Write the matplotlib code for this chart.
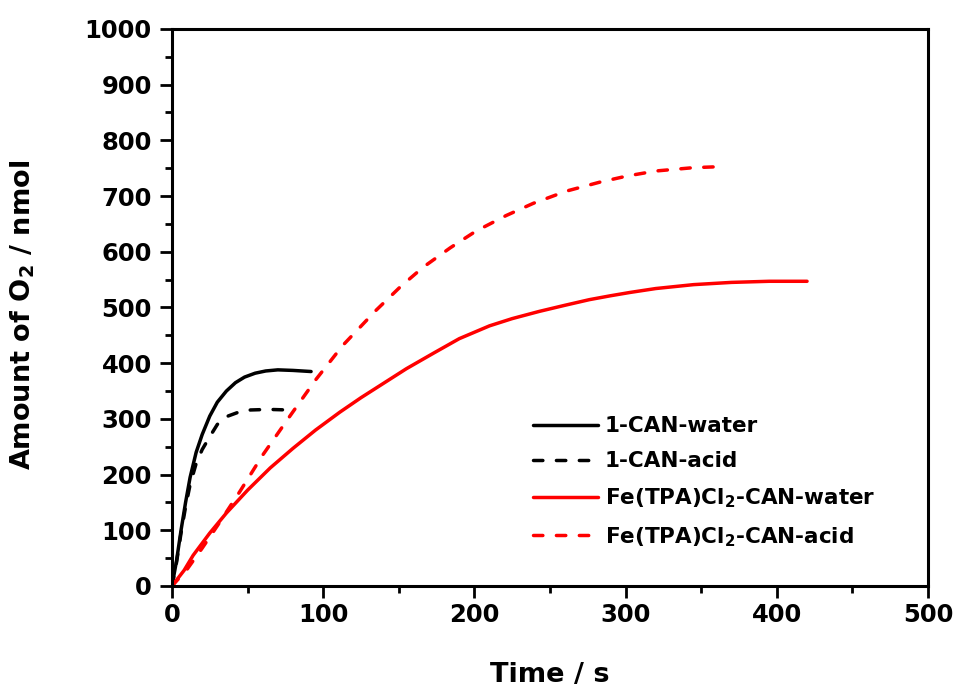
import matplotlib
matplotlib.use('Agg')
from matplotlib import pyplot as plt
from matplotlib.ticker import MultipleLocator

plt.rcParams['font.family'] = 'DejaVu Sans'
plt.rcParams['font.weight'] = 'bold'
plt.rcParams['mathtext.fontset'] = 'dejavusans'
plt.rcParams['mathtext.default'] = 'bf'

# 1-CAN-water
t_w1 = [0, 3, 6, 9, 12, 16, 20, 25, 30, 36, 42, 48, 55, 62, 70, 80, 92]
o_w1 = [0, 45, 100, 150, 195, 240, 272, 305, 330, 350, 365, 375, 382, 386, 388, 387, 385]

# 1-CAN-acid
t_a1 = [0, 3, 6, 9, 12, 16, 20, 25, 30, 36, 44, 52, 64, 77]
o_a1 = [0, 42, 95, 142, 182, 220, 245, 268, 290, 304, 312, 316, 317, 316]

# Fe(TPA)Cl2-CAN-water
t_wfe = [0, 8, 14, 25, 36, 50, 65, 80, 95, 111, 125, 140, 155, 173, 190,
         210, 225, 243, 260, 276, 290, 303, 320, 345, 370, 395, 420]
o_wfe = [0, 28, 55, 95, 131, 172, 212, 247, 280, 312, 338, 364, 390, 418, 444,
         467, 480, 493, 504, 514, 521, 527, 534, 541, 545, 547, 547]

# Fe(TPA)Cl2-CAN-acid
t_afe = [0, 10, 20, 30, 45, 60, 78, 95, 113, 135, 151, 166, 184, 201, 221,
         239, 261, 283, 301, 320, 345, 365]
o_afe = [0, 30, 68, 108, 170, 235, 305, 370, 432, 495, 537, 572, 607, 637, 665,
         687, 709, 725, 736, 745, 751, 753]

fig = plt.figure(figsize=(9.58, 6.89), dpi=100)
ax = fig.add_axes([0.1795, 0.1495, 0.7892, 0.8085])

lw = 2.5
dash = (2.7, 3.9)
ax.plot(t_w1, o_w1, color='black', lw=lw, label='1-CAN-water', solid_capstyle='round')
l, = ax.plot(t_a1, o_a1, color='black', lw=lw, label='1-CAN-acid', dash_capstyle='round')
l.set_dashes(dash)
ax.plot(t_wfe, o_wfe, color='#ff0000', lw=lw, label=r'Fe(TPA)Cl$_\mathbf{2}$-CAN-water',
        solid_capstyle='round')
l, = ax.plot(t_afe, o_afe, color='#ff0000', lw=lw, label=r'Fe(TPA)Cl$_\mathbf{2}$-CAN-acid',
             dash_capstyle='round')
l.set_dashes(dash)

ax.set_xlim(0, 500)
ax.set_ylim(0, 1000)
ax.xaxis.set_major_locator(MultipleLocator(100))
ax.xaxis.set_minor_locator(MultipleLocator(50))
ax.yaxis.set_major_locator(MultipleLocator(100))
ax.yaxis.set_minor_locator(MultipleLocator(50))

for s in ax.spines.values():
    s.set_linewidth(2.2)
ax.tick_params(which='major', direction='out', length=8.5, width=2, labelsize=17.5)
ax.tick_params(which='minor', direction='out', length=5, width=2)
ax.tick_params(axis='y', which='major', pad=6)
ax.tick_params(axis='x', which='major', pad=4)

ax.set_xlabel('Time / s', fontsize=19.5, fontweight='bold', labelpad=25)
ax.set_ylabel(r'Amount of O$_\mathbf{2}$ / nmol', fontsize=19.5, fontweight='bold')
ax.yaxis.set_label_coords(-0.178, 0.4865)

leg = ax.legend(loc='upper left', bbox_to_anchor=(0.4775, 0.305), frameon=False,
                fontsize=15.5, handlelength=3.0, handletextpad=0.33,
                labelspacing=0.7, borderpad=0, borderaxespad=0)

fig.savefig('out.png', dpi=100)
